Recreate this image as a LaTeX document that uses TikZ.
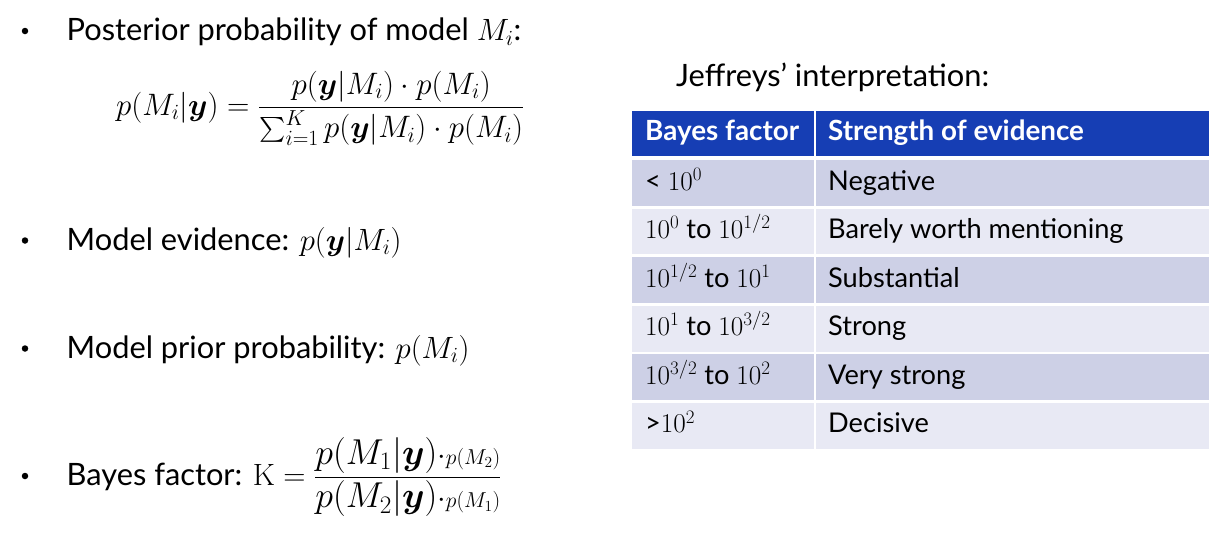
\documentclass[tikz,border=0pt]{standalone}
\usepackage{fix-cm}
\usepackage{amsmath}
\usepackage{bm}
\usepackage[no-math]{fontspec}
\setmainfont{Lato}
\definecolor{hdrblue}{RGB}{22,62,180}
\definecolor{rowdark}{RGB}{205,208,230}
\definecolor{rowlight}{RGB}{232,233,244}
\tikzset{
  bodytext/.style={anchor=base west, inner sep=0pt, font=\fontsize{30.8}{36}\selectfont},
  mathtext/.style={anchor=base west, inner sep=0pt, font=\fontsize{31}{36}\selectfont},
  bulletdot/.style={circle, fill=black, inner sep=0pt, minimum size=6.5pt},
  hdrtext/.style={anchor=base west, inner sep=0pt, text=white, font=\fontsize{27.8}{30}\selectfont\bfseries},
  celltext/.style={anchor=base west, inner sep=0pt, font=\fontsize{27.2}{30}\selectfont},
}
\begin{document}
\begin{tikzpicture}[x=1pt,y=-1pt]
\useasboundingbox[fill=white] (0,0) rectangle (1224,541);

% left column
\node[bulletdot] (b1) at (25,31) {};
\node[bodytext] (t1) at (66.5,40.7) {Posterior probability of model $M_i$:};
\node[mathtext] (eq1) at (116,115) {$\displaystyle p(M_i|\bm{y}) = \frac{p(\bm{y}|M_i)\cdot p(M_i)}{\sum_{i=1}^{K} p(\bm{y}|M_i)\cdot p(M_i)}$};

\node[bulletdot] (b2) at (25,240.5) {};
\node[bodytext] (t2) at (66.5,250) {Model evidence: $p(\bm{y}|M_i)$};

\node[bulletdot] (b3) at (25,348.5) {};
\node[bodytext] (t3) at (66.5,358) {Model prior probability: $p(M_i)$};

\node[bulletdot] (b4) at (25,476) {};
\node[bodytext] (t4) at (66.5,485) {Bayes factor: $\mathrm{K} = \dfrac{\mbox{\fontsize{36}{40}\selectfont$p(M_1|\bm{y})$}{\cdot}{\scriptstyle p(M_2)}}{\mbox{\fontsize{36}{40}\selectfont$p(M_2|\bm{y})$}{\cdot}{\scriptstyle p(M_1)}}$};

% right column
\node[bodytext] (jt) at (676,86) {Jeffreys’ interpretation:};

\fill[hdrblue] (632,111) rectangle (814,156);
\fill[hdrblue] (815.5,111) rectangle (1208.5,156);
\node[hdrtext] (h1) at (645,140.7) {Bayes factor};
\node[hdrtext] (h2) at (828,140.7) {Strength of evidence};

\foreach \i/\c in {0/rowdark,1/rowlight,2/rowdark,3/rowlight,4/rowdark,5/rowlight}{
  \fill[\c] (632,{160+48.55*\i}) rectangle (814,{205.9+48.55*\i});
  \fill[\c] (815.5,{160+48.55*\i}) rectangle (1208.5,{205.9+48.55*\i});
}
\node[celltext] (l1) at (645,190.2) {< $10^0$};
\node[celltext] (r1) at (828,190.2) {Negative};
\node[celltext] (l2) at (645,238.7) {$10^0$ to $10^{1/2}$};
\node[celltext] (r2) at (828,238.7) {Barely worth mentioning};
\node[celltext] (l3) at (645,287.3) {$10^{1/2}$ to $10^1$};
\node[celltext] (r3) at (828,287.3) {Substantial};
\node[celltext] (l4) at (645,335.8) {$10^1$ to $10^{3/2}$};
\node[celltext] (r4) at (828,335.8) {Strong};
\node[celltext] (l5) at (645,384.4) {$10^{3/2}$ to $10^2$};
\node[celltext] (r5) at (828,384.4) {Very strong};
\node[celltext] (l6) at (645,432.9) {>$10^2$};
\node[celltext] (r6) at (828,432.9) {Decisive};
\end{tikzpicture}
\end{document}
